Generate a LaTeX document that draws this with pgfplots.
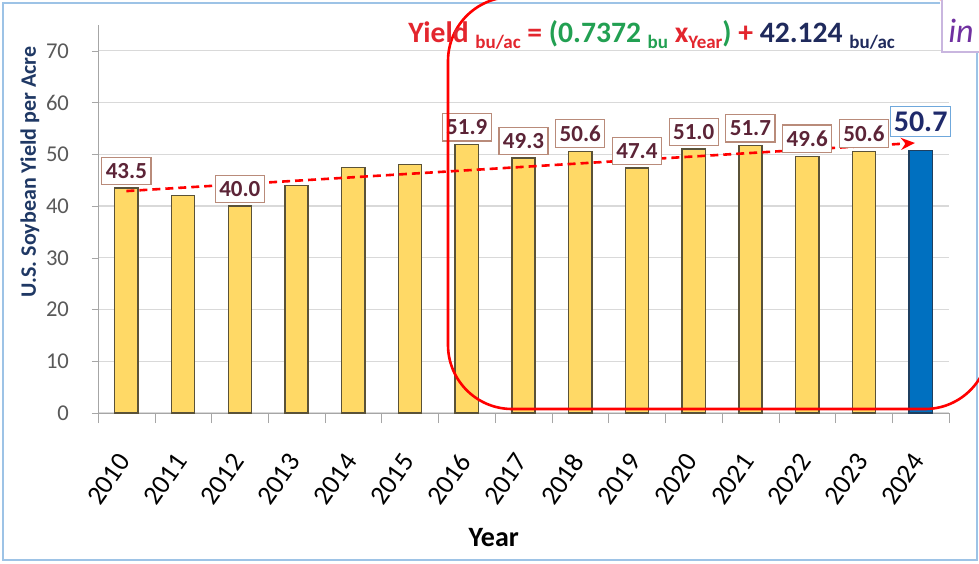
\documentclass[border=0pt]{standalone}
\usepackage{fontspec}
\setmainfont{Carlito}
\usepackage{pgfplots}
\pgfplotsset{compat=1.18}
\usetikzlibrary{arrows.meta}
\definecolor{barfill}{HTML}{FFD966}
\definecolor{baredge}{HTML}{5A5238}
\definecolor{bluebar}{HTML}{0070C0}
\definecolor{blueedge}{HTML}{1F3F5F}
\definecolor{eqred}{HTML}{E3262E}
\definecolor{eqgreen}{HTML}{22A052}
\definecolor{eqnavy}{HTML}{1F2A5C}
\definecolor{lblborder}{HTML}{B98B7A}
\definecolor{lbltext}{HTML}{5C2437}
\definecolor{lblnavy}{HTML}{1F2A6B}
\definecolor{lblblue}{HTML}{6FA8DC}
\definecolor{gridgray}{HTML}{D9D9D9}
\definecolor{axisgray}{HTML}{A6A6A6}
\definecolor{framecol}{HTML}{9DC3E6}
\definecolor{inbox}{HTML}{C9B6DF}
\definecolor{inpurple}{HTML}{7030A0}
\definecolor{ylabcol}{HTML}{1F3864}
\definecolor{ticktext}{HTML}{595959}
\newcommand\sub[1]{\raisebox{-0.35ex}{\fontsize{9.5}{10}\selectfont #1}}
\begin{document}
\begin{tikzpicture}
\useasboundingbox (0,0) rectangle (489.5pt,281.5pt);
\clip (0,0) rectangle (489.5pt,281.5pt);
\fill[white] (0,0) rectangle (489.5pt,281.5pt);
% outer frame
\draw[framecol, line width=1pt] (470pt,280pt) -- (1.5pt,280pt) -- (1.5pt,1.5pt) -- (488.5pt,1.5pt) -- (488.5pt,255.5pt);
\begin{axis}[
  at={(49pt,75pt)}, anchor=south west,
  scale only axis,
  width=425.5pt, height=194pt,
  xmin=-0.5, xmax=14.5, ymin=0, ymax=75,
  axis lines*=left,
  axis line style={draw=axisgray, -},
  xtick={0,...,14},
  xticklabels={2010,2011,2012,2013,2014,2015,2016,2017,2018,2019,2020,2021,2022,2023,2024},
  minor xtick={-0.5,0.5,...,14.5},
  major x tick style={draw=none},
  minor x tick style={draw=axisgray},
  minor tick length=5pt,
  ytick={0,10,...,70},
  y tick style={draw=axisgray},
  major tick length=3pt,
  tick align=outside,
  ymajorgrids,
  grid style={draw=gridgray, line width=0.6pt},
  /pgf/number format/assume math mode=true,
  yticklabel style={font=\fontsize{11.3}{12}\selectfont, text=ticktext, xshift=-8pt},
  xticklabel style={font=\fontsize{13.5}{14}\selectfont, anchor=east, xshift=1pt, yshift=-16pt, rotate=55},
  ylabel={U.S. Soybean Yield per Acre},
  ylabel style={font=\bfseries\fontsize{11}{12}\selectfont, text=ylabcol, at={(axis description cs:-0.08,0.621)}, anchor=center},
  xlabel={Year},
  xlabel style={font=\bfseries\fontsize{14}{16}\selectfont, at={(axis description cs:0.465,-0.32)}, anchor=center},
  clip=false,
]
\addplot[ybar, bar width=0.41, fill=barfill, draw=baredge, line width=0.7pt] coordinates {
 (0,43.5) (1,42.0) (2,40.0) (3,44.0) (4,47.5) (5,48.0) (6,51.9) (7,49.3)
 (8,50.6) (9,47.4) (10,51.0) (11,51.7) (12,49.6) (13,50.6)};
\addplot[ybar, bar width=0.41, fill=bluebar, draw=blueedge, line width=0.7pt] coordinates {(14,50.7)};
% data labels
\addplot[draw=none, mark=none, nodes near coords, point meta=explicit symbolic,
  nodes near coords style={draw=lblborder, fill=white, text=lbltext, line width=0.6pt,
   font=\bfseries\fontsize{11.5}{12}\selectfont, inner xsep=2pt, inner ysep=3pt, anchor=south, yshift=1.5pt}]
 table[meta=lbl] {
x y lbl
0 43.5 43.5
2 40.0 40.0
6 51.9 51.9
7 49.3 49.3
8 50.6 50.6
9 47.4 47.4
10 51.0 51.0
11 51.7 51.7
12 49.6 49.6
13 50.6 50.6
};
\addplot[draw=none, mark=none, nodes near coords, point meta=explicit symbolic,
  nodes near coords style={draw=lblblue, fill=white, text=lblnavy, line width=0.5pt,
   font=\bfseries\fontsize{15}{16}\selectfont, inner xsep=1.5pt, inner ysep=2.5pt, anchor=south, yshift=7pt}]
 table[meta=lbl] {
x y lbl
14 50.7 50.7
};
% trend line
\addplot[red, line width=1.3pt, dash pattern=on 4pt off 2.5pt, -{Stealth[length=7pt,width=6pt]}] coordinates {(0,42.9) (13.9,52.2)};
\end{axis}
% red highlight rectangle
\draw[red, line width=1.3pt, rounded corners=32pt] (224pt,283pt) rectangle (494.5pt,77pt);
% equation
\node[anchor=base west, inner sep=0pt] at (204pt,260pt) {\fontsize{14.8}{16}\selectfont\bfseries
\textcolor{eqred}{Yield \sub{bu/ac} =} \textcolor{eqgreen}{(0.7372 \sub{bu}} \textcolor{eqred}{x\sub{Year}}\textcolor{eqgreen}{)} \textcolor{eqred}{+} \textcolor{eqnavy}{42.124 \sub{bu/ac}}};
% inset box at top right
\draw[inbox, fill=white, line width=0.6pt] (471pt,255.5pt) rectangle (495pt,290pt);
\node[anchor=base west, inner sep=0pt, text=inpurple] at (474pt,260pt) {\fontsize{17}{18}\selectfont\itshape in};
\end{tikzpicture}
\end{document}
